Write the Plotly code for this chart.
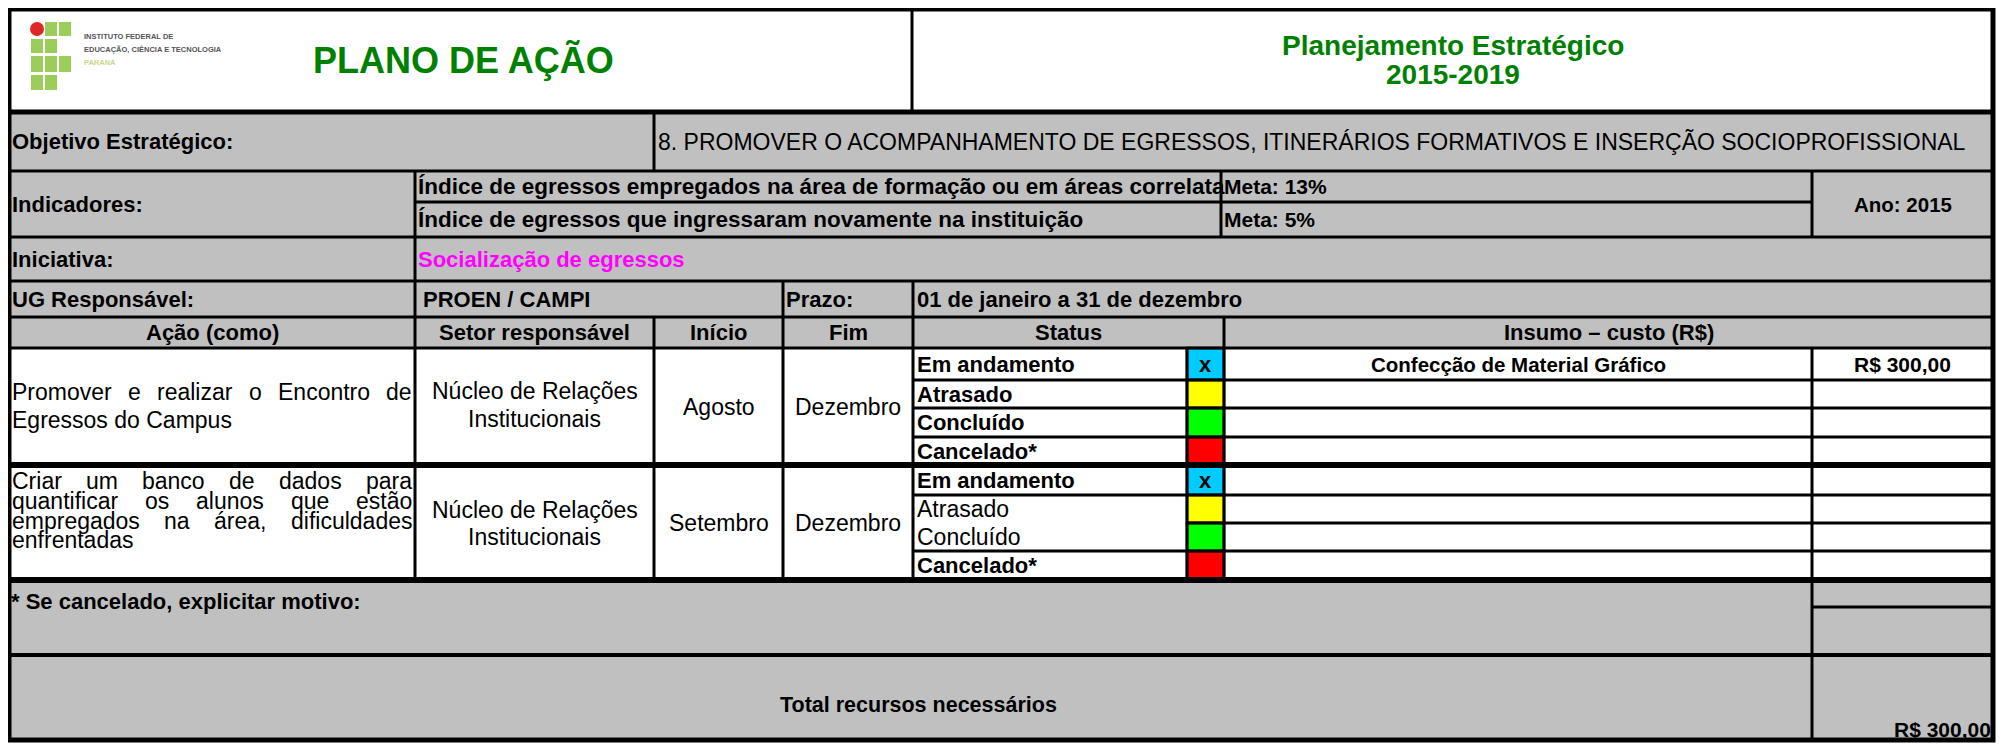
import plotly.graph_objects as go

# ---------------- content ----------------
LOGO_LINES = ["INSTITUTO FEDERAL DE", "EDUCAÇÃO, CIÊNCIA E TECNOLOGIA", "PARANÁ"]
TITLE = "PLANO DE AÇÃO"
PLAN_TITLE = ["Planejamento Estratégico", "2015-2019"]
OBJ_LABEL = "Objetivo Estratégico:"
OBJ_TEXT = "8. PROMOVER O ACOMPANHAMENTO DE EGRESSOS, ITINERÁRIOS FORMATIVOS E INSERÇÃO SOCIOPROFISSIONAL"
IND_LABEL = "Indicadores:"
INDICATORS = ["Índice de egressos empregados na área de formação ou em áreas correlata",
              "Índice de egressos que ingressaram novamente na instituição"]
METAS = ["Meta: 13%", "Meta: 5%"]
ANO = "Ano: 2015"
INIT_LABEL = "Iniciativa:"
INIT_TEXT = "Socialização de egressos"
UG_LABEL = "UG Responsável:"
UG_TEXT = "PROEN / CAMPI"
PRAZO_LABEL = "Prazo:"
PRAZO_TEXT = "01 de janeiro a 31 de dezembro"
HEADERS = ["Ação (como)", "Setor responsável", "Início", "Fim", "Status", "Insumo – custo (R$)"]
ACTIONS = [["Promover e realizar o Encontro de", "Egressos do Campus"],
           ["Criar um banco de dados para", "quantificar os alunos que estão",
            "empregados na área, dificuldades", "enfrentadas"]]
SETORES = [["Núcleo de Relações", "Institucionais"], ["Núcleo de Relações", "Institucionais"]]
INICIO = ["Agosto", "Setembro"]
FIM = ["Dezembro", "Dezembro"]
STATUS_LABELS = ["Em andamento", "Atrasado", "Concluído", "Cancelado*"]
STATUS_BOLD = [[True, True, True, True], [True, False, False, True]]
STATUS_MARK = [["x", "", "", ""], ["x", "", "", ""]]
STATUS_COLORS = ["#00CCFF", "#FFFF00", "#00FF00", "#FF0000"]
INSUMOS = [["Confecção de Material Gráfico", "", "", ""], ["", "", "", ""]]
CUSTOS = [["R$ 300,00", "", "", ""], ["", "", "", ""]]
MOTIVO = "* Se cancelado, explicitar motivo:"
TOTAL_LABEL = "Total recursos necessários"
TOTAL_VALUE = "R$ 300,00"

# ---------------- geometry (page pixels) ----------------
W, H = 2005, 744
PAGE_MARGIN = 8          # default body margin of the html page
X_LEFT, X_RIGHT = 9, 1993
X_HEAD_DIV = 912
X_LABEL = 415
X_OBJ = 654
X_SETOR = 654
X_INICIO = 783
X_FIM = 913
X_BOX = 1187
X_META = 1221
X_STATUS = 1224
X_INSUMO = 1812
Y_TOP, Y_HEAD, Y_OBJ, Y_IND_MID, Y_IND = 9, 112, 171, 202, 237
Y_INIT, Y_UG, Y_COLHEAD = 281, 317, 348
ACTION_ROWS = [[348, 380, 408, 437, 465], [465, 495, 523, 551, 580]]
ACTION_TEXT_Y = [[392, 420], [481, 501, 521, 540]]
SETOR_TEXT_Y = [[391, 419], [510, 537]]
Y_MOTIVO_SUB, Y_MOTIVO, Y_BOTTOM = 607, 655, 740

FONT = "Liberation Sans, Arial, sans-serif"
GRAY = "#C0C0C0"
FS = 22      # bold labels
FR = 23      # regular text

shapes, annotations = [], []


def rect(x0, y0, x1, y1, fill, lw=0, lc="black", layer="below"):
    shapes.append(dict(type="rect", xref="x", yref="y", x0=x0, y0=y0, x1=x1, y1=y1,
                       fillcolor=fill, line=dict(width=lw, color=lc), layer=layer))


def circle(x0, y0, x1, y1, fill):
    shapes.append(dict(type="circle", xref="x", yref="y", x0=x0, y0=y0, x1=x1, y1=y1,
                       fillcolor=fill, line=dict(width=0), layer="above"))


def hline(y, x0, x1, w=3, c="black"):
    shapes.append(dict(type="line", xref="x", yref="y", x0=x0, x1=x1, y0=y, y1=y,
                       line=dict(width=w, color=c), layer="above"))


def vline(x, y0, y1, w=3, c="black"):
    shapes.append(dict(type="line", xref="x", yref="y", x0=x, x1=x, y0=y0, y1=y1,
                       line=dict(width=w, color=c), layer="above"))


def text(x, y, s, size=FS, bold=False, color="black", anchor="left"):
    annotations.append(dict(x=x, y=y, xref="x", yref="y",
                            text=f"<b>{s}</b>" if bold else s, showarrow=False,
                            xanchor=anchor, yanchor="middle", borderpad=0, borderwidth=0,
                            font=dict(family=FONT, size=size, color=color)))


ARIAL_W = {' ': 278, 'a': 556, 'b': 556, 'c': 500, 'd': 556, 'e': 556, 'f': 278, 'g': 556,
           'h': 556, 'i': 222, 'j': 222, 'k': 500, 'l': 222, 'm': 833, 'n': 556, 'o': 556,
           'p': 556, 'q': 556, 'r': 333, 's': 500, 't': 278, 'u': 556, 'v': 500, 'w': 722,
           'x': 500, 'y': 500, 'z': 500, 'á': 556, 'ã': 556, 'é': 556, 'ç': 500, 'õ': 556,
           'P': 667, 'E': 667, 'C': 722, ',': 278}


def text_width(s, size):
    return sum(ARIAL_W.get(ch, 556) for ch in s) / 1000 * size


def justified(line, x0, x1, y, size=FR, last=False):
    words = line.split()
    if last or len(words) == 1:
        text(x0, y, line, size)
        return
    widths = [text_width(w, size) for w in words]
    gap = (x1 - x0 - sum(widths)) / (len(words) - 1)
    x = x0
    for i, (w, wd) in enumerate(zip(words, widths)):
        if i == len(words) - 1:
            text(x1, y, w, size, anchor="right")
        else:
            text(x, y, w, size)
        x += wd + gap


# ---------------- backgrounds ----------------
Y_ACT_END = ACTION_ROWS[-1][-1]
rect(X_LEFT, Y_TOP, X_RIGHT, Y_HEAD, "white")
rect(X_LEFT, Y_HEAD, X_RIGHT, Y_COLHEAD, GRAY)
rect(X_LEFT, Y_COLHEAD, X_RIGHT, Y_ACT_END, "white")
rect(X_LEFT, Y_ACT_END, X_RIGHT, Y_BOTTOM, GRAY)

# ---------------- logo ----------------
LOGO_COLS = [(31, 43), (45, 57), (59, 71)]
LOGO_ROWS = [(22, 36), (39, 53), (56, 72), (75, 90)]
LOGO_CELLS = [(0, 1), (0, 2), (1, 0), (1, 1), (2, 0), (2, 1), (2, 2), (3, 0), (3, 1)]
for r, c in LOGO_CELLS:
    rect(LOGO_COLS[c][0], LOGO_ROWS[r][0], LOGO_COLS[c][1], LOGO_ROWS[r][1], "#9ACD5A", layer="above")
circle(LOGO_COLS[0][0] - 1, LOGO_ROWS[0][0], LOGO_COLS[0][1] + 1, LOGO_ROWS[0][1], "#E02828")
for s, col, yy in zip(LOGO_LINES, ["#555555", "#555555", "#C9D98C"], [36, 49, 62]):
    text(84, yy, s, size=7.5, bold=True, color=col)

# ---------------- header ----------------
text((316 + 611) / 2, 60, TITLE, size=36, bold=True, color="#008000", anchor="center")
text((X_HEAD_DIV + X_RIGHT) / 2, 45, PLAN_TITLE[0], size=28, bold=True, color="#008000", anchor="center")
text((X_HEAD_DIV + X_RIGHT) / 2, 74, PLAN_TITLE[1], size=28, bold=True, color="#008000", anchor="center")

# ---------------- top rows ----------------
text(X_LEFT + 3, (Y_HEAD + Y_OBJ) / 2, OBJ_LABEL, bold=True)
text(X_OBJ + 4, (Y_HEAD + Y_OBJ) / 2, OBJ_TEXT, size=23)
text(X_LEFT + 3, (Y_OBJ + Y_IND) / 2, IND_LABEL, bold=True)
for s, m, (a, b) in zip(INDICATORS, METAS, [(Y_OBJ, Y_IND_MID), (Y_IND_MID, Y_IND)]):
    text(X_LABEL + 3, (a + b) / 2, s, size=22.5, bold=True)
    text(X_META + 3, (a + b) / 2, m, size=21, bold=True)
text((X_INSUMO + X_RIGHT) / 2, (Y_OBJ + Y_IND) / 2, ANO, size=20.5, bold=True, anchor="center")
text(X_LEFT + 3, (Y_IND + Y_INIT) / 2, INIT_LABEL, bold=True)
text(X_LABEL + 3, (Y_IND + Y_INIT) / 2, INIT_TEXT, bold=True, color="#FF00FF")
text(X_LEFT + 3, (Y_INIT + Y_UG) / 2, UG_LABEL, bold=True)
text(X_LABEL + 8, (Y_INIT + Y_UG) / 2, UG_TEXT, bold=True)
text(X_INICIO + 3, (Y_INIT + Y_UG) / 2, PRAZO_LABEL, bold=True)
text(X_FIM + 4, (Y_INIT + Y_UG) / 2, PRAZO_TEXT, bold=True)

col_edges = [X_LEFT, X_LABEL, X_SETOR, X_INICIO, X_FIM, X_STATUS, X_RIGHT]
for h, a, b in zip(HEADERS, col_edges[:-1], col_edges[1:]):
    text((a + b) / 2, (Y_UG + Y_COLHEAD) / 2, h, bold=True, anchor="center")

# ---------------- action blocks ----------------
for k in range(len(ACTIONS)):
    rows = ACTION_ROWS[k]
    mid = (rows[0] + rows[-1]) / 2
    lines = ACTIONS[k]
    for i, (ln, yy) in enumerate(zip(lines, ACTION_TEXT_Y[k])):
        justified(ln, X_LEFT + 3, X_LABEL - 3, yy, last=(i == len(lines) - 1))
    for ln, yy in zip(SETORES[k], SETOR_TEXT_Y[k]):
        text((X_LABEL + X_SETOR) / 2, yy, ln, size=FR, anchor="center")
    text((X_SETOR + X_INICIO) / 2, mid, INICIO[k], size=FR, anchor="center")
    text((X_INICIO + X_FIM) / 2, mid, FIM[k], size=FR, anchor="center")
    for j in range(4):
        a, b = rows[j], rows[j + 1]
        rect(X_BOX, a, X_STATUS, b, STATUS_COLORS[j], lw=2.5, layer="above")
        text(X_FIM + 4, (a + b) / 2, STATUS_LABELS[j],
             size=FS if STATUS_BOLD[k][j] else FR, bold=STATUS_BOLD[k][j])
        if STATUS_MARK[k][j]:
            text((X_BOX + X_STATUS) / 2, (a + b) / 2, STATUS_MARK[k][j], bold=True, anchor="center")
        if INSUMOS[k][j]:
            text((X_STATUS + X_INSUMO) / 2, (a + b) / 2, INSUMOS[k][j], size=20.5, bold=True, anchor="center")
        if CUSTOS[k][j]:
            text((X_INSUMO + X_RIGHT) / 2, (a + b) / 2, CUSTOS[k][j], size=21, bold=True, anchor="center")

# ---------------- bottom rows ----------------
text(X_LEFT + 2, Y_ACT_END + 21, MOTIVO, bold=True)
text((X_LEFT + X_INSUMO) / 2 + 8, 705, TOTAL_LABEL, size=21.5, bold=True, anchor="center")
text(X_RIGHT - 2, 729, TOTAL_VALUE, size=21, bold=True, anchor="right")

# ---------------- grid lines ----------------
hline(Y_HEAD, X_LEFT, X_RIGHT, 5)
for y in [Y_OBJ, Y_IND, Y_INIT, Y_UG, Y_COLHEAD]:
    hline(y, X_LEFT, X_RIGHT, 3)
hline(Y_IND_MID, X_LABEL, X_INSUMO, 3)
for k, rows in enumerate(ACTION_ROWS):
    for j, y in enumerate(rows[1:-1]):
        x_start = X_BOX if (k == 1 and j == 1) else X_FIM
        hline(y, x_start, X_RIGHT, 3)
    hline(rows[-1], X_LEFT, X_RIGHT, 6)
hline(Y_MOTIVO_SUB, X_INSUMO, X_RIGHT, 3)
hline(Y_MOTIVO, X_LEFT, X_RIGHT, 4)

vline(X_HEAD_DIV, Y_TOP, Y_HEAD, 3)
vline(X_OBJ, Y_HEAD, Y_OBJ, 3)
vline(X_LABEL, Y_OBJ, Y_ACT_END, 3)
vline(X_META, Y_OBJ, Y_IND, 3)
vline(X_INSUMO, Y_OBJ, Y_IND, 3)
vline(X_INSUMO, Y_COLHEAD, Y_BOTTOM, 3)
vline(X_SETOR, Y_UG, Y_ACT_END, 3)
vline(X_INICIO, Y_INIT, Y_ACT_END, 3)
vline(X_FIM, Y_INIT, Y_ACT_END, 3)
vline(X_STATUS, Y_UG, Y_ACT_END, 3)
vline(X_BOX, Y_COLHEAD, Y_ACT_END, 3)

# outer border
rect(X_LEFT, Y_TOP, X_RIGHT, Y_BOTTOM, "rgba(0,0,0,0)", lw=5, layer="above")

fig = go.Figure()
fig.add_trace(go.Scatter(x=[PAGE_MARGIN, W], y=[PAGE_MARGIN, H], mode="markers",
                         marker=dict(opacity=0), hoverinfo="skip", showlegend=False))
fig.update_layout(
    width=W - PAGE_MARGIN, height=H - PAGE_MARGIN, autosize=False,
    margin=dict(l=0, r=0, t=0, b=0, pad=0),
    paper_bgcolor="white", plot_bgcolor="white",
    xaxis=dict(range=[PAGE_MARGIN, W], visible=False, fixedrange=True),
    yaxis=dict(range=[H, PAGE_MARGIN], visible=False, fixedrange=True),
    shapes=shapes, annotations=annotations, showlegend=False,
)
fig.write_html("out.html", config={"displayModeBar": False})
